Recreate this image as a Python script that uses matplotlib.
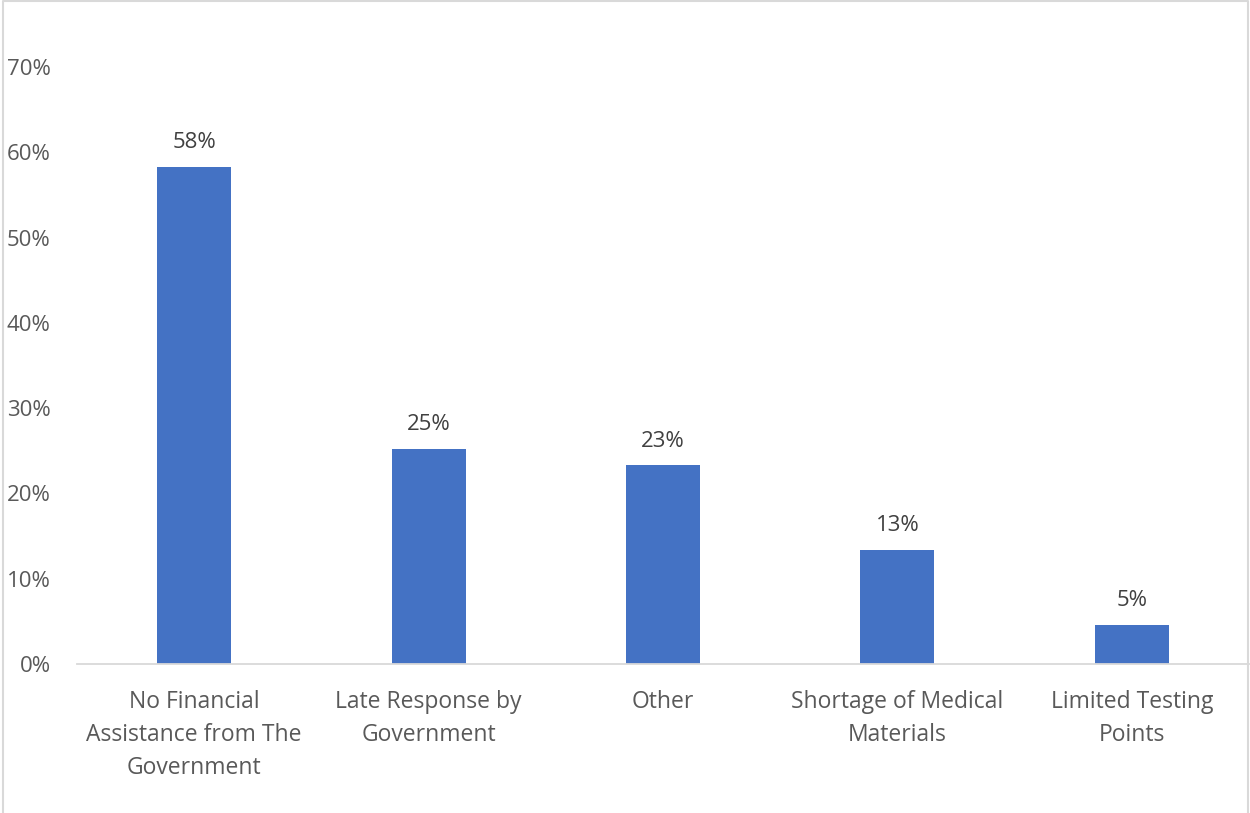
import matplotlib.pyplot as plt
from matplotlib.lines import Line2D

categories = ["No Financial\nAssistance from The\nGovernment", "Late Response by\nGovernment",
              "Other", "Shortage of Medical\nMaterials", "Limited Testing\nPoints"]
values = [58.3, 25.2, 23.3, 13.4, 4.6]
ticks = [0, 10, 20, 30, 40, 50, 60, 70]

plt.rcParams['font.family'] = ['Open Sans', 'DejaVu Sans']
text_col = "#595959"

fig = plt.figure(figsize=(12.5, 8.13), dpi=100)
ax = fig.add_axes([77 / 1250, 1 - 664 / 813, 1172 / 1250, 597 / 813])

x = range(len(values))
bars = ax.bar(x, values, width=0.315, color="#4472C4", zorder=2)
for b, v in zip(bars, values):
    ax.text(b.get_x() + b.get_width() / 2, v + 1.6, f"{round(v)}%", ha="center", va="bottom",
            fontsize=16, color="#404040")

ax.set_xlim(-0.5, len(values) - 0.5)
ax.set_ylim(0, 70)
ax.set_yticks(ticks)
ax.set_yticklabels([f"{t}%" for t in ticks])
ax.set_xticks(list(x))
ax.set_xticklabels(categories, linespacing=1.5)
ax.tick_params(axis="both", length=0, labelsize=16, colors=text_col)
ax.tick_params(axis="x", labelsize=16.5)
ax.tick_params(axis="y", pad=19)
ax.tick_params(axis="x", pad=19)
for s in ["top", "right", "left"]:
    ax.spines[s].set_visible(False)
ax.spines["bottom"].set_color("#D9D9D9")
ax.spines["bottom"].set_linewidth(1.3)

# chart area border (left, top, right)
bx = [0.002, 0.002, 0.9985, 0.9985]
by = [0.0, 0.999, 0.999, 0.0]
fig.add_artist(Line2D(bx, by, transform=fig.transFigure, color="#D9D9D9", linewidth=1.5))

fig.savefig("out.png", dpi=100)
